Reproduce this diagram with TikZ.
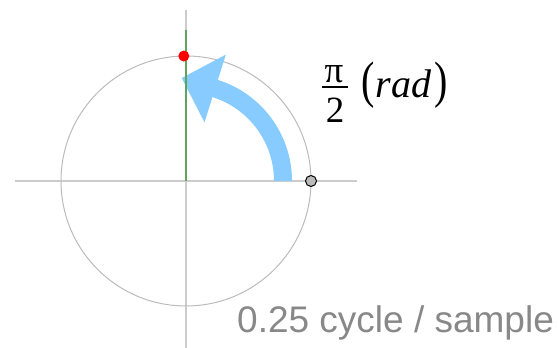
\documentclass[tikz,border=0pt]{standalone}
\usepackage{graphicx}
\usepackage{fontspec}
\setmainfont{Liberation Serif}
\newfontfamily\labelsans{Liberation Sans}
\usepackage{xcolor}
\definecolor{axisgray}{HTML}{CCCCCC}
\definecolor{circgray}{HTML}{BBBBBB}
\definecolor{phasegreen}{HTML}{5FA35F}
\definecolor{arcblue}{HTML}{88CCFF}
\definecolor{txtgray}{HTML}{888888}
\usepackage{tikz}
\usetikzlibrary{calc}
\newcommand{\tallparen}[1]{\scalebox{1}[1.28]{#1}}

\begin{document}
\begin{tikzpicture}[
  x=1pt,y=1pt,
  axis/.style={draw=axisgray,line width=1.5pt},
  unitc/.style={draw=circgray,line width=1pt},
  phase/.style={draw=phasegreen,line width=2pt},
  dot/.style={circle,inner sep=0pt,minimum size=11pt},
  reddot/.style={dot,fill=red},
  startdot/.style={dot,fill=circgray,draw=black,line width=1pt},
  rot/.style={draw=arcblue,line width=18pt},
  frac/.style={anchor=base,inner sep=0pt,font=\fontsize{37}{44}\selectfont},
]
\useasboundingbox (0,0) rectangle (558,348);
\coordinate (o) at (186,167);
\coordinate (xl) at (15,167);
\coordinate (xr) at (357,167);
\coordinate (yt) at (186,338);
\coordinate (yb) at (186,0);
\coordinate (gt) at (186,318);

% Axes and unit circle
\draw[axis] (xl) -- (xr);
\draw[axis] (yb) -- (yt);
\draw[unitc] (o) circle[radius=125];

% Rotation arrow
\draw[rot] ($(o)+(0:97)$) arc[start angle=0,end angle=73,radius=97];
\fill[arcblue] ($(o)+(72.5:132.5)$) -- ($(o)+(72.5:97)+(162.5:35)$) -- ($(o)+(72.5:61.5)$) -- cycle;

% Phase
\draw[phase] (gt) -- (o);
\node[startdot] (start) at ($(o)+(0:125)$) {};
\node[reddot] (samp) at ($(o)+(91:125)$) {};

% Labels
\node[frac] (num) at (334,265) {π};
\node[frac] (den) at (335,225) {2};
\coordinate (barl) at (322,261);
\coordinate (barr) at (348,261);
\draw[line width=2pt] (barl) -- (barr);
\node[frac,anchor=base west,font=\fontsize{40}{46}\selectfont] (unit) at (361,250)
  {\tallparen{(}\kern1pt\textit{rad}\kern3pt\tallparen{)}};
\node[anchor=base west,inner sep=0pt,text=txtgray,font=\labelsans\fontsize{37}{42}\selectfont] (rate) at (237,15) {0.25 cycle / sample};
\end{tikzpicture}
\end{document}
